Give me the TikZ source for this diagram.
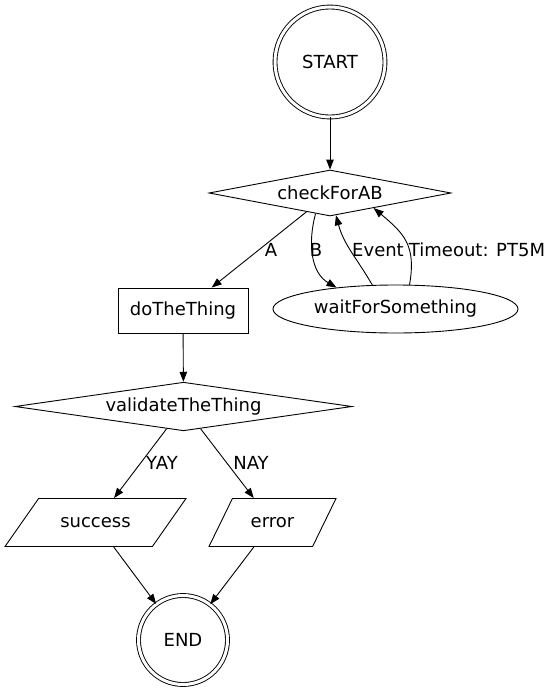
\documentclass[tikz,border=0pt]{standalone}
\usepackage{fontspec}
\setmainfont{DejaVu Sans}
\usetikzlibrary{arrows.meta,shapes.geometric}

\begin{document}
\begin{tikzpicture}[
    x=1pt, y=1pt,
    font=\fontsize{18}{21}\selectfont,
    base/.style={draw, line width=0.9pt, inner sep=0pt},
    terminal/.style={base, circle, double, double distance=3pt},
    decision/.style={base, diamond, aspect=5},
    task/.style={base, rectangle, minimum width=130pt, minimum height=45pt},
    waitstate/.style={base, ellipse, minimum width=245pt, minimum height=48pt},
    outcome/.style={base, trapezium, trapezium stretches body, text height=13pt, text depth=4pt, inner ysep=15.5pt},
    arr/.style={-{Triangle[length=10pt,width=7.5pt]}, line width=0.9pt},
    lbl/.style={inner sep=1pt},
  ]
  \useasboundingbox (0,0) rectangle (554,-693);

  % states
  \node[terminal, minimum size=110pt] (start) at (330,-62) {START};
  \node[decision, minimum width=242pt, minimum height=46pt] (check) at (330,-193) {checkForAB};
  \node[task] (doit) at (183,-310.5) {doTheThing};
  \node[waitstate] (wait) at (395.5,-309) {waitForSomething};
  \node[decision, minimum width=337pt, minimum height=47pt] (validate) at (183.5,-406.5) {validateTheThing};
  \node[outcome, minimum width=181pt, trapezium left angle=55, trapezium right angle=125] (success) at (95.5,-522.5) {success};
  \node[outcome, minimum width=127pt, trapezium left angle=64, trapezium right angle=116] (error) at (272.5,-522.5) {error};
  \node[terminal, minimum size=89pt] (stop) at (183,-640) {END};

  % transitions
  \draw[arr] (start) -- (check);
  \draw[arr] (check) -- (doit);
  \draw[arr] (check.-125) to[out=-105,in=150] (wait.160);
  \draw[arr] (wait.134) to[out=120,in=-75] (check.-75);
  \draw[arr] (wait.60) to[out=80,in=-40,looseness=1.2] (check.-19);
  \draw[arr] (doit) -- (validate);
  \draw[arr] (validate) -- (success);
  \draw[arr] (validate) -- (error);
  \draw[arr] (success) -- (stop);
  \draw[arr] (error) -- (stop);

  % transition labels
  \node[lbl] (labA) at (271,-250) {A};
  \node[lbl] (labB) at (316,-250) {B};
  \node[lbl] (labEvent) at (378,-250) {Event};
  \node[lbl] (labTimeout) at (477,-250) {Timeout: PT5M};
  \node[lbl] (labYay) at (162,-463) {YAY};
  \node[lbl] (labNay) at (251,-463) {NAY};
\end{tikzpicture}
\end{document}
